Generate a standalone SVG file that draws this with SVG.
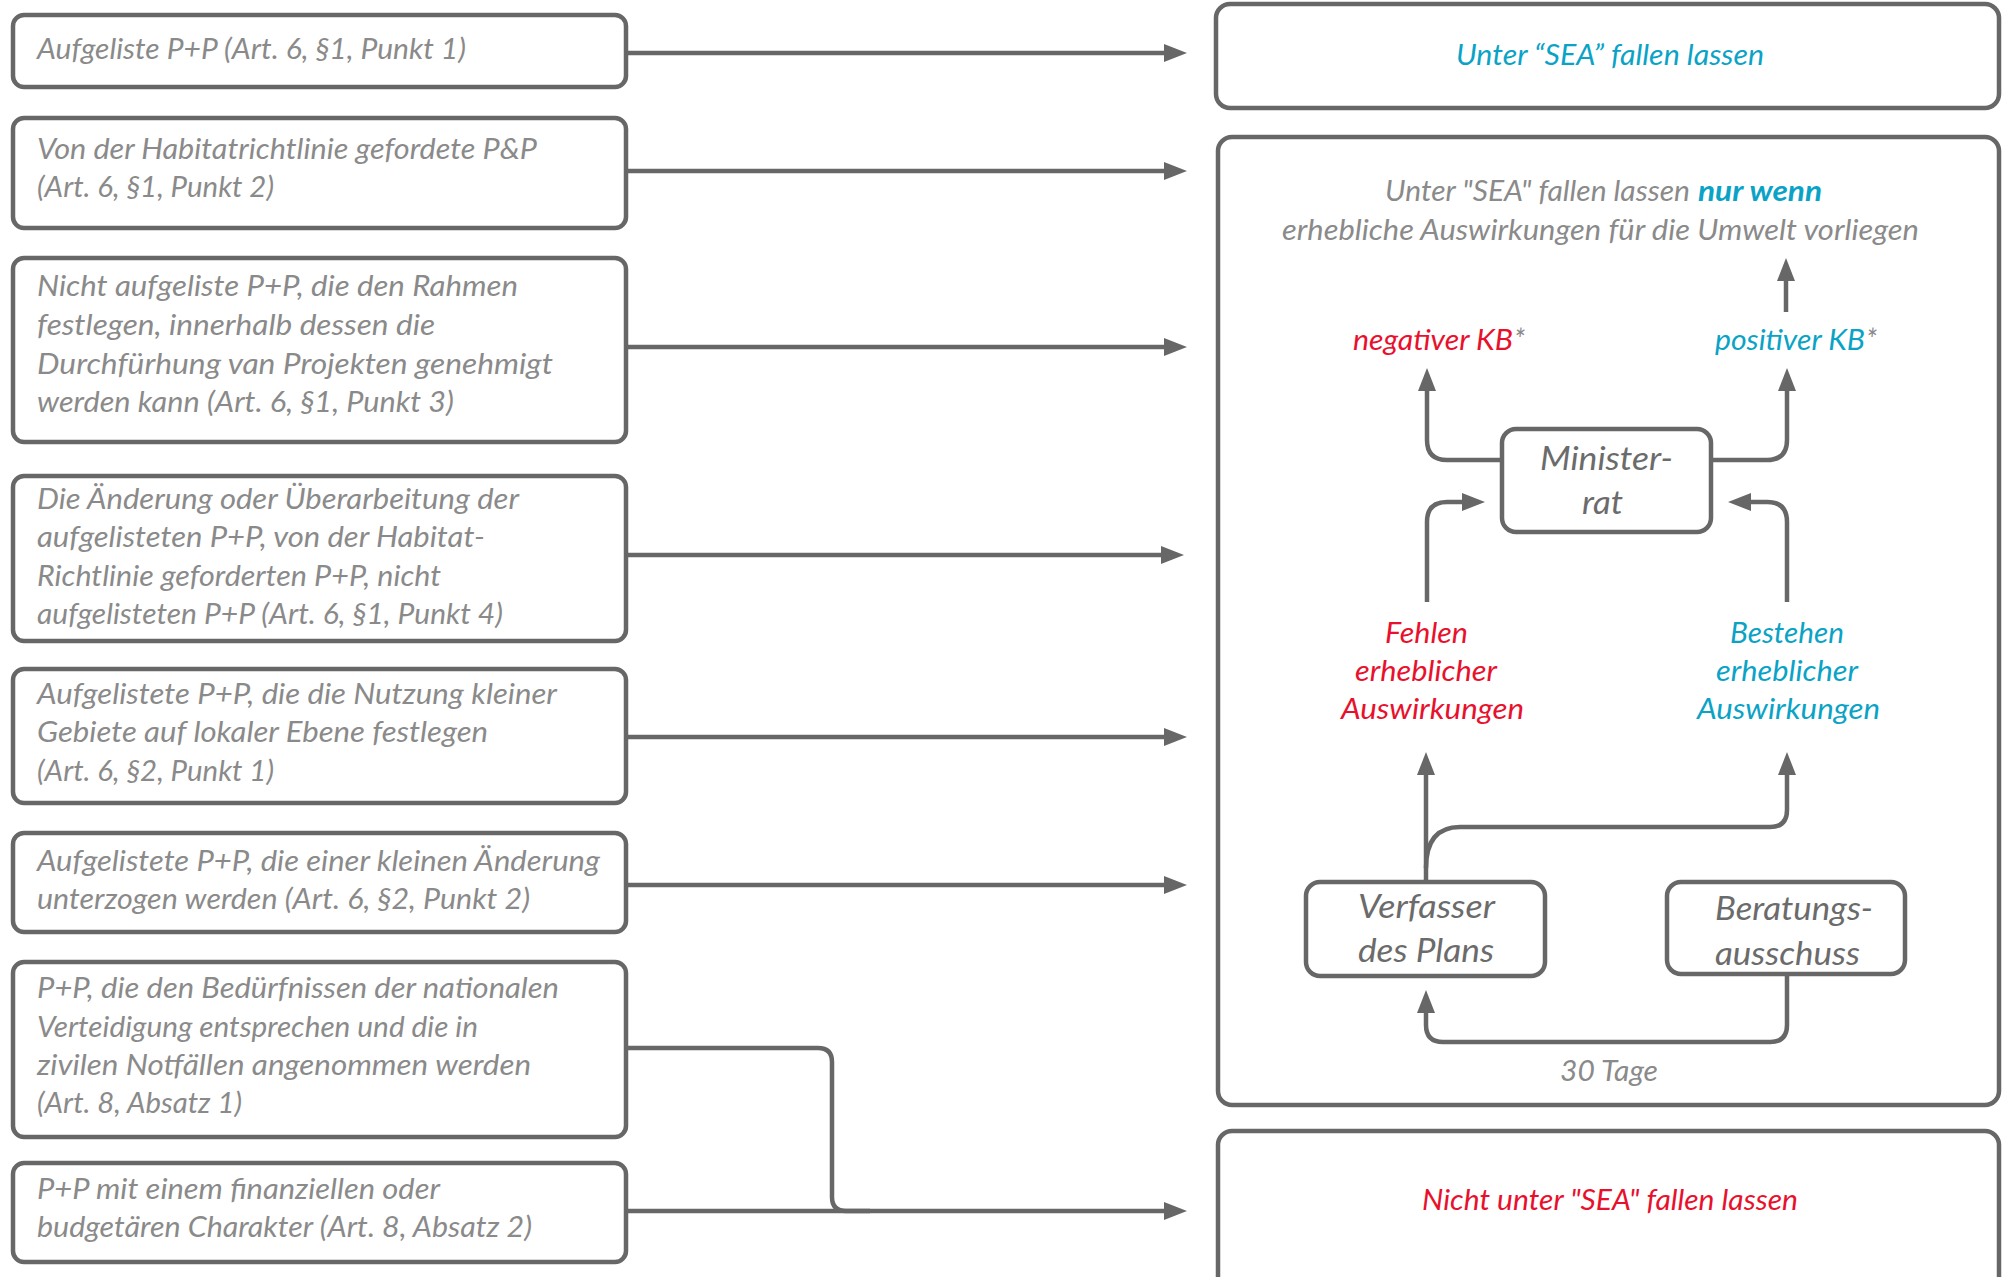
<svg xmlns="http://www.w3.org/2000/svg" width="2011" height="1277" viewBox="0 0 2011 1277">
<style>
.box{fill:#fff;stroke:#676767;stroke-width:4.5}
.ln{fill:none;stroke:#676767;stroke-width:4.5}
text{font-family:Lato,"Open Sans","Liberation Sans",sans-serif;font-style:italic;font-size:28px}
.g{fill:#8a8a8a}
.d{fill:#6b6b6b;font-size:33px}
.c{fill:#0aa3c6}
.r{fill:#e8112d}
.b{font-weight:700}
</style>
<defs>
<marker id="ah" markerUnits="userSpaceOnUse" markerWidth="24" markerHeight="18" refX="1" refY="9" orient="auto">
<path d="M0,0 L23,9 L0,18 z" fill="#676767"/>
</marker>
</defs>
<rect width="2011" height="1277" fill="#fff"/>

<g id="l1"><rect class="box" x="13" y="15" width="613" height="72" rx="11"/>
<text class="g" x="37" y="59" textLength="429" lengthAdjust="spacingAndGlyphs">Aufgeliste P+P (Art. 6, §1, Punkt 1)</text></g>

<g id="l2"><rect class="box" x="13" y="118" width="613" height="110" rx="11"/>
<text class="g" x="37" y="159" textLength="500" lengthAdjust="spacingAndGlyphs">Von der Habitatrichtlinie gefordete P&amp;P</text>
<text class="g" x="37" y="197" textLength="237" lengthAdjust="spacingAndGlyphs">(Art. 6, §1, Punkt 2)</text></g>

<g id="l3"><rect class="box" x="13" y="258" width="613" height="184" rx="11"/>
<text class="g" x="37" y="296" textLength="481" lengthAdjust="spacingAndGlyphs">Nicht aufgeliste P+P, die den Rahmen</text>
<text class="g" x="37" y="335" textLength="398" lengthAdjust="spacingAndGlyphs">festlegen, innerhalb dessen die</text>
<text class="g" x="37" y="374" textLength="516" lengthAdjust="spacingAndGlyphs">Durchfürhung van Projekten genehmigt</text>
<text class="g" x="37" y="412" textLength="417" lengthAdjust="spacingAndGlyphs">werden kann (Art. 6, §1, Punkt 3)</text></g>

<g id="l4"><rect class="box" x="13" y="476" width="613" height="165" rx="11"/>
<text class="g" x="37" y="509" textLength="482" lengthAdjust="spacingAndGlyphs">Die Änderung oder Überarbeitung der</text>
<text class="g" x="37" y="547" textLength="448" lengthAdjust="spacingAndGlyphs">aufgelisteten P+P, von der Habitat-</text>
<text class="g" x="37" y="586" textLength="404" lengthAdjust="spacingAndGlyphs">Richtlinie geforderten P+P, nicht</text>
<text class="g" x="37" y="624" textLength="466" lengthAdjust="spacingAndGlyphs">aufgelisteten P+P (Art. 6, §1, Punkt 4)</text></g>

<g id="l5"><rect class="box" x="13" y="669" width="613" height="134" rx="11"/>
<text class="g" x="37" y="704" textLength="520" lengthAdjust="spacingAndGlyphs">Aufgelistete P+P, die die Nutzung kleiner</text>
<text class="g" x="37" y="742" textLength="451" lengthAdjust="spacingAndGlyphs">Gebiete auf lokaler Ebene festlegen</text>
<text class="g" x="37" y="781" textLength="237" lengthAdjust="spacingAndGlyphs">(Art. 6, §2, Punkt 1)</text></g>

<g id="l6"><rect class="box" x="13" y="833" width="613" height="99" rx="11"/>
<text class="g" x="37" y="871" textLength="563" lengthAdjust="spacingAndGlyphs">Aufgelistete P+P, die einer kleinen Änderung</text>
<text class="g" x="37" y="909" textLength="493" lengthAdjust="spacingAndGlyphs">unterzogen werden (Art. 6, §2, Punkt 2)</text></g>

<g id="l7"><rect class="box" x="13" y="962" width="613" height="175" rx="11"/>
<text class="g" x="37" y="998" textLength="522" lengthAdjust="spacingAndGlyphs">P+P, die den Bedürfnissen der nationalen</text>
<text class="g" x="37" y="1037" textLength="441" lengthAdjust="spacingAndGlyphs">Verteidigung entsprechen und die in</text>
<text class="g" x="37" y="1075" textLength="494" lengthAdjust="spacingAndGlyphs">zivilen Notfällen angenommen werden</text>
<text class="g" x="37" y="1113" textLength="205" lengthAdjust="spacingAndGlyphs">(Art. 8, Absatz 1)</text></g>

<g id="l8"><rect class="box" x="13" y="1163" width="613" height="99" rx="11"/>
<text class="g" x="37" y="1199" textLength="403" lengthAdjust="spacingAndGlyphs">P+P mit einem finanziellen oder</text>
<text class="g" x="37" y="1237" textLength="495" lengthAdjust="spacingAndGlyphs">budgetären Charakter (Art. 8,  Absatz 2)</text></g>

<g id="r-top"><rect class="box" x="1216" y="4" width="783" height="104" rx="14"/>
<text class="c" x="1456" y="65" textLength="308" lengthAdjust="spacingAndGlyphs">Unter “SEA” fallen lassen</text></g>

<g id="r-mid"><rect class="box" x="1218" y="137" width="781" height="968" rx="14"/>
<text class="g" x="1385" y="201" textLength="305" lengthAdjust="spacingAndGlyphs">Unter "SEA" fallen lassen</text>
<text class="c b" x="1698" y="201" textLength="124" lengthAdjust="spacingAndGlyphs">nur wenn</text>
<text class="g" x="1282" y="240" textLength="637" lengthAdjust="spacingAndGlyphs">erhebliche Auswirkungen für die Umwelt vorliegen</text>
<text class="r" x="1353" y="350" textLength="160" lengthAdjust="spacingAndGlyphs">negativer KB</text><text class="g" x="1514" y="350">*</text>
<text class="c" x="1715" y="350" textLength="150" lengthAdjust="spacingAndGlyphs">positiver KB</text><text class="g" x="1866" y="350">*</text>
<text class="r" x="1385" y="643" textLength="83" lengthAdjust="spacingAndGlyphs">Fehlen</text>
<text class="r" x="1355" y="681" textLength="142" lengthAdjust="spacingAndGlyphs">erheblicher</text>
<text class="r" x="1341" y="719" textLength="183" lengthAdjust="spacingAndGlyphs">Auswirkungen</text>
<text class="c" x="1730" y="643" textLength="114" lengthAdjust="spacingAndGlyphs">Bestehen</text>
<text class="c" x="1716" y="681" textLength="142" lengthAdjust="spacingAndGlyphs">erheblicher</text>
<text class="c" x="1697" y="719" textLength="183" lengthAdjust="spacingAndGlyphs">Auswirkungen</text>
<text class="g" x="1560" y="1081" textLength="98" lengthAdjust="spacingAndGlyphs">30 Tage</text></g>

<g id="minister"><rect class="box" x="1502" y="429" width="209" height="103" rx="14"/>
<text class="d" x="1540" y="470" textLength="133" lengthAdjust="spacingAndGlyphs">Minister-</text>
<text class="d" x="1582" y="514" textLength="41" lengthAdjust="spacingAndGlyphs">rat</text></g>

<g id="verfasser"><rect class="box" x="1306" y="882" width="239" height="94" rx="14"/>
<text class="d" x="1358" y="918" textLength="137" lengthAdjust="spacingAndGlyphs">Verfasser</text>
<text class="d" x="1358" y="962" textLength="136" lengthAdjust="spacingAndGlyphs">des Plans</text></g>

<g id="beratung"><rect class="box" x="1667" y="882" width="238" height="92" rx="14"/>
<text class="d" x="1715" y="920" textLength="158" lengthAdjust="spacingAndGlyphs">Beratungs-</text>
<text class="d" x="1715" y="965" textLength="145" lengthAdjust="spacingAndGlyphs">ausschuss</text></g>

<g id="r-bot"><rect class="box" x="1218" y="1131" width="781" height="180" rx="14"/>
<text class="r" x="1422" y="1210" textLength="376" lengthAdjust="spacingAndGlyphs">Nicht unter "SEA" fallen lassen</text></g>

<g id="connectors">
<path class="ln" d="M626,53 H1165" marker-end="url(#ah)"/>
<path class="ln" d="M626,171 H1165" marker-end="url(#ah)"/>
<path class="ln" d="M626,347 H1165" marker-end="url(#ah)"/>
<path class="ln" d="M626,555 H1162" marker-end="url(#ah)"/>
<path class="ln" d="M626,737 H1165" marker-end="url(#ah)"/>
<path class="ln" d="M626,885 H1165" marker-end="url(#ah)"/>
<path class="ln" d="M626,1048 H818 Q832,1048 832,1062 V1197 Q832,1211 846,1211 H870"/>
<path class="ln" d="M626,1211 H1165" marker-end="url(#ah)"/>
<path class="ln" d="M1786,312 V280" marker-end="url(#ah)"/>
<path class="ln" d="M1502,460 H1447 Q1427,460 1427,440 V390" marker-end="url(#ah)"/>
<path class="ln" d="M1711,460 H1767 Q1787,460 1787,440 V390" marker-end="url(#ah)"/>
<path class="ln" d="M1427,602 V522 Q1427,502 1447,502 H1463" marker-end="url(#ah)"/>
<path class="ln" d="M1787,602 V522 Q1787,502 1767,502 H1750" marker-end="url(#ah)"/>
<path class="ln" d="M1426,880 V774" marker-end="url(#ah)"/>
<path class="ln" d="M1426,868 Q1426,827 1460,827 H1770 Q1787,827 1787,810 V774" marker-end="url(#ah)"/>
<path class="ln" d="M1787,976 V1025 Q1787,1042 1770,1042 H1443 Q1426,1042 1426,1025 V1012" marker-end="url(#ah)"/>
</g>
</svg>
